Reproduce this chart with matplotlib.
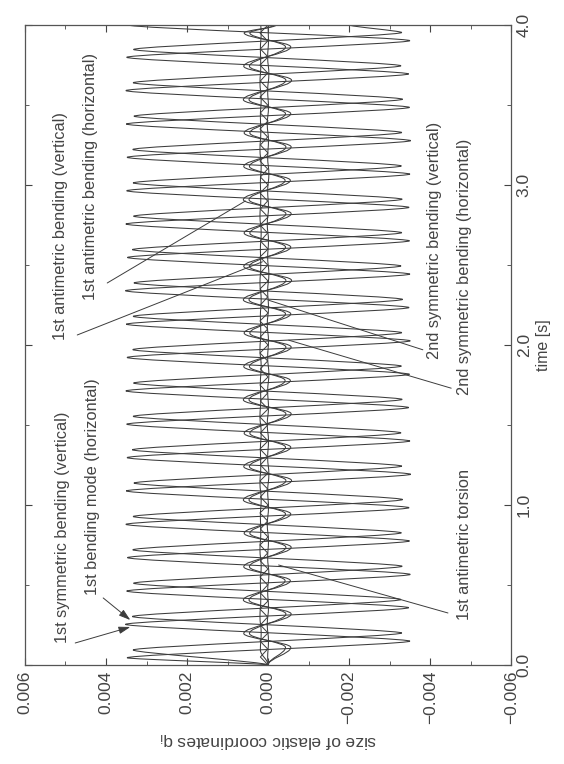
import matplotlib.pyplot as plt
from matplotlib.path import Path
from matplotlib.patches import PathPatch

plt.rcParams['font.family'] = ['Liberation Sans', 'DejaVu Sans']
plt.rcParams['mathtext.fontset'] = 'custom'
plt.rcParams['mathtext.rm'] = 'Liberation Sans'

# turning points of the elastic coordinates (time [s], size)
# 1st symmetric bending (vertical)
t_a = [0.000, 0.045, 0.149, 0.254, 0.358, 0.462, 0.566, 0.671, 0.775, 0.879,
       0.983, 1.088, 1.192, 1.296, 1.400, 1.505, 1.609, 1.713, 1.817, 1.922,
       2.026, 2.130, 2.234, 2.339, 2.443, 2.547, 2.651, 2.756, 2.860, 2.964,
       3.068, 3.173, 3.277, 3.381, 3.485, 3.590, 3.694, 3.798, 3.902, 4.000]
q_a = [0.0,
       0.00348, -0.00350, 0.00352, -0.00347, 0.00349, -0.00351, 0.00347, -0.00349, 0.00351, -0.00348,
       0.00350, -0.00352, 0.00348, -0.00350, 0.00349, -0.00347, 0.00351, -0.00349, 0.00348, -0.00351,
       0.00350, -0.00348, 0.00352, -0.00350, 0.00347, -0.00349, 0.00351, -0.00348, 0.00349, -0.00350,
       0.00348, -0.00352, 0.00350, -0.00349, 0.00351, -0.00347, 0.00349, -0.00350, 0.00346]

# 1st bending mode (horizontal)
t_b = [0.000, 0.094, 0.200, 0.303, 0.409, 0.511, 0.617, 0.720, 0.826, 0.928,
       1.034, 1.137, 1.243, 1.345, 1.451, 1.554, 1.660, 1.762, 1.868, 1.971,
       2.077, 2.179, 2.285, 2.388, 2.494, 2.596, 2.702, 2.805, 2.911, 3.013,
       3.119, 3.222, 3.328, 3.430, 3.536, 3.639, 3.745, 3.847, 3.953, 4.000]
q_b = [0.0,
       0.00333, -0.00330, 0.00335, -0.00328, 0.00332, -0.00331, 0.00334, -0.00329, 0.00333, -0.00332,
       0.00331, -0.00330, 0.00335, -0.00328, 0.00333, -0.00331, 0.00332, -0.00329, 0.00334, -0.00330,
       0.00333, -0.00332, 0.00331, -0.00328, 0.00335, -0.00330, 0.00332, -0.00331, 0.00333, -0.00329,
       0.00334, -0.00330, 0.00331, -0.00332, 0.00333, -0.00328, 0.00332, -0.00330, -0.00200]

# 1st antimetric bending (vertical / horizontal)
t_c = [0.000, 0.110, 0.197, 0.319, 0.406, 0.527, 0.614, 0.736, 0.823, 0.944,
       1.031, 1.153, 1.240, 1.361, 1.448, 1.570, 1.657, 1.778, 1.865, 1.987,
       2.074, 2.195, 2.282, 2.404, 2.491, 2.612, 2.699, 2.821, 2.908, 3.029,
       3.116, 3.238, 3.325, 3.446, 3.533, 3.655, 3.742, 3.863, 3.950, 4.000]
q_c = [0.0,
       -0.00056, 0.00060, -0.00057, 0.00061, -0.00055, 0.00060, -0.00057, 0.00059, -0.00056, 0.00061,
       -0.00058, 0.00060, -0.00056, 0.00059, -0.00057, 0.00061, -0.00055, 0.00060, -0.00057, 0.00059,
       -0.00056, 0.00061, -0.00058, 0.00060, -0.00056, 0.00059, -0.00057, 0.00061, -0.00055, 0.00060,
       -0.00057, 0.00059, -0.00056, 0.00061, -0.00058, 0.00060, -0.00056, 0.00059, -0.00020]
q_d = [0.0,
       -0.00043, 0.00046, -0.00044, 0.00047, -0.00042, 0.00046, -0.00044, 0.00045, -0.00043, 0.00047,
       -0.00044, 0.00046, -0.00043, 0.00045, -0.00044, 0.00047, -0.00042, 0.00046, -0.00044, 0.00045,
       -0.00043, 0.00047, -0.00044, 0.00046, -0.00043, 0.00045, -0.00044, 0.00047, -0.00042, 0.00046,
       -0.00044, 0.00045, -0.00043, 0.00047, -0.00044, 0.00046, -0.00043, 0.00045, -0.00015]

# 2nd symmetric bending and torsion (small, fast)
t_e = [0.00, 0.05, 0.10, 0.15, 0.20, 0.25, 0.30, 0.35, 0.40, 0.45,
       0.50, 0.55, 0.60, 0.65, 0.70, 0.75, 0.80, 0.85, 0.90, 0.95,
       1.00, 1.05, 1.10, 1.15, 1.20, 1.25, 1.30, 1.35, 1.40, 1.45,
       1.50, 1.55, 1.60, 1.65, 1.70, 1.75, 1.80, 1.85, 1.90, 1.95,
       2.00, 2.05, 2.10, 2.15, 2.20, 2.25, 2.30, 2.35, 2.40, 2.45,
       2.50, 2.55, 2.60, 2.65, 2.70, 2.75, 2.80, 2.85, 2.90, 2.95,
       3.00, 3.05, 3.10, 3.15, 3.20, 3.25, 3.30, 3.35, 3.40, 3.45,
       3.50, 3.55, 3.60, 3.65, 3.70, 3.75, 3.80, 3.85, 3.90, 3.95, 4.00]
q_e = [0.0, 0.00019, 0.00001, 0.00020, 0.00000, 0.00019, 0.00001, 0.00020, 0.00000, 0.00019,
       0.00001, 0.00020, 0.00000, 0.00019, 0.00001, 0.00020, 0.00000, 0.00019, 0.00001, 0.00020,
       0.00000, 0.00019, 0.00001, 0.00020, 0.00000, 0.00019, 0.00001, 0.00020, 0.00000, 0.00019,
       0.00001, 0.00020, 0.00000, 0.00019, 0.00001, 0.00020, 0.00000, 0.00019, 0.00001, 0.00020,
       0.00000, 0.00019, 0.00001, 0.00020, 0.00000, 0.00019, 0.00001, 0.00020, 0.00000, 0.00019,
       0.00001, 0.00020, 0.00000, 0.00019, 0.00001, 0.00020, 0.00000, 0.00019, 0.00001, 0.00020,
       0.00000, 0.00019, 0.00001, 0.00020, 0.00000, 0.00019, 0.00001, 0.00020, 0.00000, 0.00019,
       0.00001, 0.00020, 0.00000, 0.00019, 0.00001, 0.00020, 0.00000, 0.00019, 0.00001, 0.00020, 0.00000]
q_g = [0.0, 0.00001, -0.00001, 0.00002, -0.00001, 0.00001, -0.00002, 0.00001, -0.00001, 0.00002,
       -0.00001, 0.00001, -0.00002, 0.00001, -0.00001, 0.00002, -0.00001, 0.00001, -0.00002, 0.00001,
       -0.00001, 0.00002, -0.00001, 0.00001, -0.00002, 0.00001, -0.00001, 0.00002, -0.00001, 0.00001,
       -0.00002, 0.00001, -0.00001, 0.00002, -0.00001, 0.00001, -0.00002, 0.00001, -0.00001, 0.00000]
q_h = [0.0, 0.00019, 0.00017, 0.00020, 0.00018, 0.00019, 0.00017, 0.00020, 0.00018, 0.00019,
       0.00017, 0.00020, 0.00018, 0.00019, 0.00017, 0.00020, 0.00018, 0.00019, 0.00017, 0.00020,
       0.00018, 0.00019, 0.00017, 0.00020, 0.00018, 0.00019, 0.00017, 0.00020, 0.00018, 0.00019,
       0.00017, 0.00020, 0.00018, 0.00019, 0.00017, 0.00020, 0.00018, 0.00019, 0.00017, 0.00018]

q_ticks = [0.006, 0.004, 0.002, 0.000, -0.002, -0.004, -0.006]
q_labels = ['0.006', '0.004', '0.002', '0.000', '\u22120.002', '\u22120.004', '\u22120.006']
t_ticks = [0.0, 1.0, 2.0, 3.0, 4.0]
t_labels = ['0.0', '1.0', '2.0', '3.0', '4.0']

ink = '#3c3c3c'
txt = '#444444'


def smooth(t, q, k):
    # cubic segments with flat tangents at every turning point
    verts = [(q[0], t[0])]
    codes = [Path.MOVETO]
    for i in range(1, len(t)):
        dt = t[i] - t[i - 1]
        verts += [(q[i - 1], t[i - 1] + k * dt), (q[i], t[i] - k * dt), (q[i], t[i])]
        codes += [Path.CURVE4] * 3
    return Path(verts, codes)


fig = plt.figure(figsize=(5.64, 7.64), dpi=100)
ax = fig.add_axes([0.0443, 0.1296, 0.862, 0.8377])

curves = [(t_a, q_a, 0.2), (t_b, q_b, 0.2), (t_c, q_c, 0.36), (t_c, q_d, 0.36),
          (t_a, q_g, 0.36), (t_b, q_h, 0.36)]
for t, q, k in curves:
    ax.add_patch(PathPatch(smooth(t, q, k), fill=False, edgecolor=ink, lw=0.75))
ax.plot(q_e, t_e, color=ink, lw=0.7)

ax.set_xlim(0.006, -0.006)
ax.set_ylim(0, 4)
ax.set_xticks(q_ticks)
ax.set_xticklabels(q_labels, rotation=90)
ax.set_xticks([0.005, 0.003, 0.001, -0.001, -0.003, -0.005], minor=True)
ax.yaxis.tick_right()
ax.yaxis.set_label_position('right')
ax.set_yticks(t_ticks)
ax.set_yticklabels(t_labels, rotation=90, va='center')
ax.set_yticks([0.5, 1.5, 2.5, 3.5], minor=True)
ax.tick_params(which='both', direction='in', top=True, bottom=True, left=True, right=True,
               labelsize=12.5, colors=txt)
ax.tick_params(which='major', length=5, pad=4)
ax.tick_params(which='minor', length=3)
for s in ax.spines.values():
    s.set_color('#555555')
    s.set_linewidth(0.9)

ax.set_xlabel('size of elastic coordinates q$_\\mathregular{i}$', rotation=180, fontsize=12.5,
              color=txt, labelpad=5)
ax.set_ylabel('time [s]', fontsize=11.5, color=txt, labelpad=3)

fs = 11.8
notes = [
    ('1st symmetric bending (vertical)', 0.00508, 0.14),
    ('1st bending mode (horizontal)', 0.00434, 0.44),
    ('1st antimetric bending (vertical)', 0.00513, 2.03),
    ('1st antimetric bending (horizontal)', 0.00439, 2.28),
    ('2nd symmetric bending (vertical)', -0.00410, 1.91),
    ('2nd symmetric bending (horizontal)', -0.00484, 1.69),
    ('1st antimetric torsion', -0.00484, 0.28),
]
for s, x, y in notes:
    ax.text(x, y, s, rotation=90, ha='center', va='bottom', fontsize=fs, color=txt)

arrow = dict(arrowstyle='-|>,head_length=0.7,head_width=0.22', color=ink, lw=0.7, shrinkA=0, shrinkB=0)
line = dict(arrowstyle='-', color=ink, lw=0.7, shrinkA=0, shrinkB=0)
ax.annotate('', xy=(0.00340, 0.2375), xytext=(0.00476, 0.1375), arrowprops=arrow)
ax.annotate('', xy=(0.00340, 0.281), xytext=(0.00407, 0.419), arrowprops=arrow)
ax.annotate('', xy=(0.00014, 2.52), xytext=(0.00471, 2.0625), arrowprops=line)
ax.annotate('', xy=(0.00056, 2.90), xytext=(0.00397, 2.3875), arrowprops=line)
ax.annotate('', xy=(-0.00001, 2.28), xytext=(-0.00382, 1.97), arrowprops=line)
ax.annotate('', xy=(-0.00051, 2.03), xytext=(-0.00452, 1.73), arrowprops=line)
ax.annotate('', xy=(-0.00026, 0.625), xytext=(-0.00444, 0.325), arrowprops=line)

fig.savefig('out.png', dpi=100)
